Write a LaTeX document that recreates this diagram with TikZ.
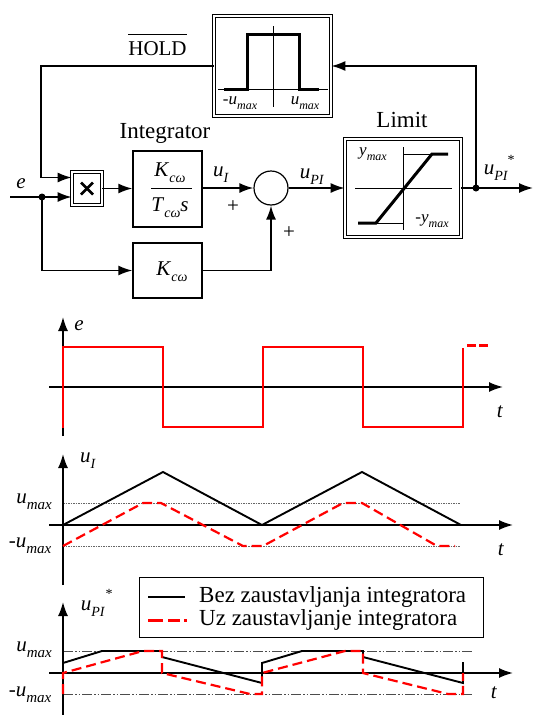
\documentclass[tikz,border=0pt]{standalone}
\usepackage{fontspec}
\setmainfont{Liberation Serif}
\usetikzlibrary{arrows.meta,calc}
\newcommand{\vsub}[3][15]{\textit{#2}\raisebox{-0.3em}{\fontsize{#1}{#1}\selectfont\textit{#3}}}
\begin{document}
\begin{tikzpicture}[x=1pt,y=-1pt, line join=miter,
  >={Latex[length=14pt,width=10pt]},
  every node/.style={font=\fontsize{23}{26}\selectfont, inner sep=0pt},
  blk/.style={draw, line width=1.4pt, inner sep=0pt},
  dbl/.style={draw, line width=1.1pt, double, double distance=2.2pt, inner sep=0pt},
  wire/.style={line width=1.6pt},
  thinax/.style={line width=0.8pt},
  thick3/.style={line width=3pt},
  ax/.style={line width=1.7pt},
  redw/.style={red, line width=2.2pt},
  redd/.style={red, line width=2.2pt, dash pattern=on 10pt off 5pt},
  blkw/.style={black, line width=1.9pt},
  dotg/.style={black!60, line width=0.7pt, dash pattern=on 1.5pt off 1pt},
  dashdotg/.style={black!70, line width=0.7pt, dash pattern=on 10pt off 2pt on 1.5pt off 2pt on 1.5pt off 2pt},
  lbl/.style={font=\fontsize{23}{26}\selectfont},
  small/.style={font=\fontsize{17}{19}\selectfont},
  mid/.style={font=\fontsize{21}{23}\selectfont},
  dot/.style={circle, fill, minimum size=7pt, inner sep=0pt}
]
\useasboundingbox (0,0) rectangle (533,715);

% ---------------- block diagram ----------------
\node[dbl, minimum width=116.6pt, minimum height=99.6pt] (hold) at (272.5,66) {};
\node[dbl, minimum width=29.6pt, minimum height=32.6pt] (mult) at (87,188.5) {};
\node[blk, minimum width=69pt, minimum height=76pt] (integ) at (167.5,189) {};
\node[blk, minimum width=69pt, minimum height=55pt] (kc) at (167.5,270.5) {};
\node[draw, circle, line width=1.2pt, minimum size=34pt] (sum) at (271,188) {};
\node[dbl, minimum width=115.6pt, minimum height=97.6pt] (limit) at (403,188) {};

% multiplier cross
\draw[line width=2.6pt] ($(mult)+(-6,-6)$) -- ($(mult)+(6,6)$);
\draw[line width=2.6pt] ($(mult)+(-6,6)$) -- ($(mult)+(6,-6)$);

% integrator fraction
\node[mid] (num) at (170,173) {\vsub[14]{K}{cω}};
\draw[line width=1pt] (151,188) -- (192,188);
\node[mid] (den) at (170,208) {\vsub[14]{T}{cω}\textit{s}};
\node[mid] (kctext) at (172,272) {\vsub[14]{K}{cω}};

% hold box content
\draw[thinax] (218,89) -- (328,89);
\draw[thinax] (273,26) -- (273,107);
\draw[thick3] (224,89) -- (247,89) -- (247,34) -- (299,34) -- (299,89) -- (319,89);
\node[small] (hl1) at (240,103) {-\vsub[12]{u}{max}};
\node[small] (hl2) at (305,103) {\vsub[12]{u}{max}};

% limit box content
\draw[thinax] (355,188) -- (452,188);
\draw[thinax] (403,147) -- (403,230);
\draw[thinax] (403,154) -- (432,154);
\draw[thinax] (376,223) -- (403,223);
\draw[thick3] (358,223) -- (376,223) -- (432,154) -- (448,154);
\node[small] (ly1) at (373,154) {\vsub[12]{y}{max}};
\node[small] (ly2) at (432,221) {-\vsub[12]{y}{max}};

% labels
\node[font=\fontsize{21}{23}\selectfont] (holdlbl) at (157.5,48.5) {HOLD};
\draw[line width=1pt] ([yshift=7pt]holdlbl.north west) -- ([yshift=7pt]holdlbl.north east);
\node[lbl] (intlbl) at (165,133) {Integrator};
\node[lbl] (limlbl) at (402,120) {Limit};
\node[mid] (elbl) at (21,184) {\textit{e}};
\node[mid] (uilbl) at (221,175) {\vsub[14]{u}{I}};
\node[mid] (p1) at (233,207) {+};
\node[mid] (p2) at (289,233) {+};
\node[mid] (upilbl) at (312,177) {\vsub[14]{u}{PI}};
\node[mid] (upsl) at (496,173) {\vsub[14]{u}{PI}};
\node[font=\fontsize{14}{14}\selectfont] (star1) at (511,160) {*};

% connectors
\coordinate (ein) at (10,197);
\coordinate (ebr) at (42,197);
\coordinate (fbl) at (41,66);
\coordinate (obr) at (476,188);
\coordinate (oend) at (533,188);
\draw[wire,->] (hold.west) -- (fbl) |- ([yshift=11pt]mult.west);
\draw[wire,->] (ein) -- ([yshift=-8.5pt]mult.west);
\draw[wire,->] (ebr) |- (kc.west);
\draw[wire,->] (mult.east) -- (integ.west |- mult.east);
\draw[wire,->] (integ.east |- sum.west) -- (sum.west);
\draw[wire,->] (kc.east) -| (sum.south);
\draw[wire,->] (sum.east) -- (limit.west);
\draw[wire,->] (limit.east) -- (oend);
\draw[wire,->] (obr) |- (hold.east);
\node[dot] (d1) at (ebr) {};
\node[dot] (d2) at (obr) {};

% ---------------- plot 1: e ----------------
\draw[ax,->] (49,387) -- (503,387);
\draw[ax,->] (63,436) -- (63,317);
\node[mid] (e2) at (79,326) {\textit{e}};
\node[mid] (t1) at (500,412) {\textit{t}};
\draw[redw] (63,428) -- (63,347) -- (163,347) -- (163,427) -- (263,427) -- (263,347) -- (363,347) -- (363,427) -- (463,427) -- (463,348);
\draw[red, line width=3pt, dash pattern=on 9pt off 3pt] (467,345) -- (489,345);

% ---------------- plot 2: u_I ----------------
\draw[dotg] (63,503) -- (460,503);
\draw[dotg] (63,546) -- (460,546);
\draw[ax,->] (49,525) -- (513,525);
\draw[ax,->] (63,585) -- (63,454);
\node[mid] (ui2) at (88,461) {\vsub[14]{u}{I}};
\node[mid] (t2) at (501,550) {\textit{t}};
\node[mid] (um2) at (34,502) {\vsub{u}{max}};
\node[mid] (umm2) at (30,546) {-\vsub{u}{max}};
\draw[blkw] (63,525) -- (163,472) -- (262,525) -- (362,472) -- (461,525);
\draw[redd] (63,546) -- (143,503) -- (161,503) -- (243,546) -- (263,546) -- (343,503) -- (362,503) -- (437,546) -- (455,546);

% ---------------- plot 3: u_PI* ----------------
\draw[dashdotg] (63,651) -- (473,651);
\draw[dashdotg] (63,694) -- (473,694);
\draw[ax,->] (49,673) -- (513,673);
\draw[ax,->] (63,715) -- (63,602);
\node[mid] (up3) at (93,609) {\vsub[14]{u}{PI}};
\node[font=\fontsize{14}{14}\selectfont] (star2) at (109,594) {*};
\node[mid] (t3) at (494,693) {\textit{t}};
\node[mid] (um3) at (34,650) {\vsub{u}{max}};
\node[mid] (umm3) at (30,695) {-\vsub{u}{max}};
\draw[blkw] (63,663) -- (102,651) -- (162,651) -- (162,657) -- (262,683) -- (262,663) -- (302,651) -- (363,651) -- (363,657) -- (463,683) -- (463,662);
\draw[redd] (63,694) -- (63,673) -- (143,651) -- (162,651) -- (162,673) -- (250,694) -- (262,694) -- (262,673) -- (345,651) -- (363,651) -- (363,673) -- (448,694) -- (463,694) -- (463,673);

% legend
\node[draw, line width=1pt, minimum width=344pt, minimum height=60pt, fill=white] (leg) at (311,607) {};
\draw[line width=2.5pt] (148,597) -- (185,597);
\draw[red, line width=3pt, dash pattern=on 15pt off 5pt on 12pt off 4pt on 3pt off 4pt] (148,620) -- (190,620);
\node[lbl, anchor=west] (leg1) at (199,597) {Bez zaustavljanja integratora};
\node[lbl, anchor=west] (leg2) at (199,620) {Uz zaustavljanje integratora};
\end{tikzpicture}
\end{document}
